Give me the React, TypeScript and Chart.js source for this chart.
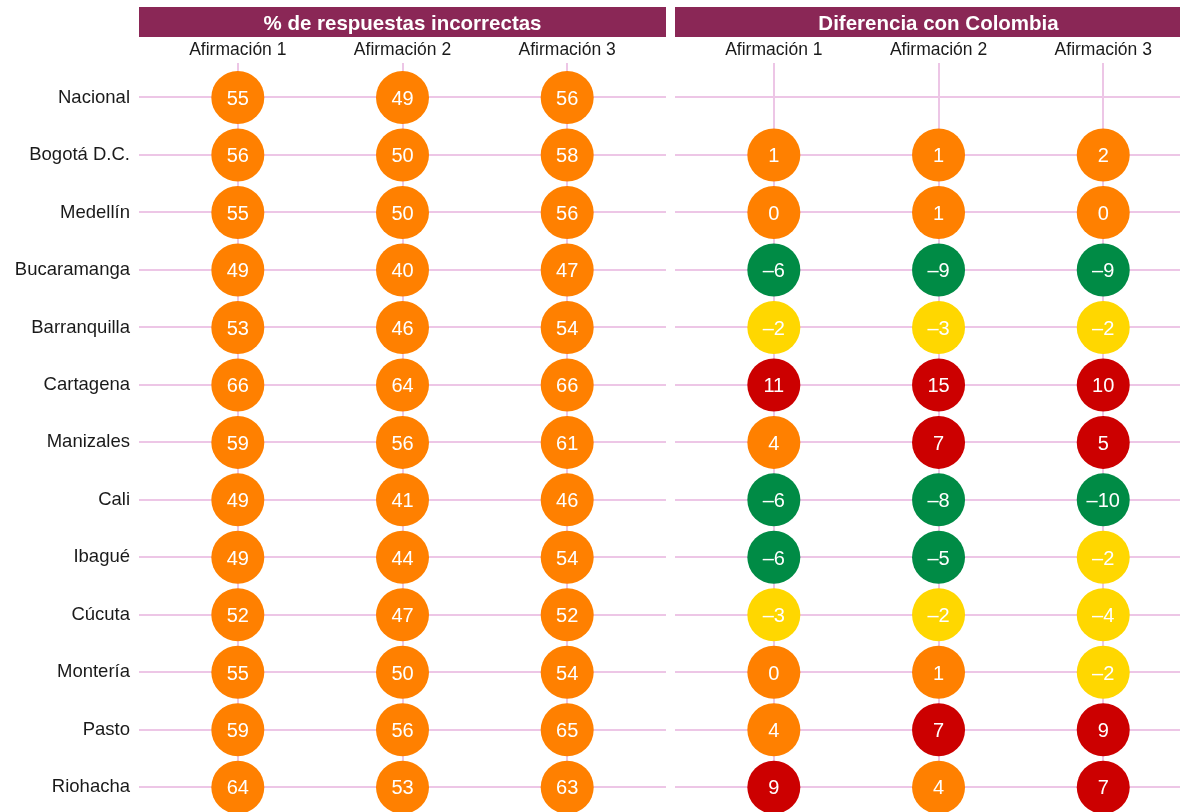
import React, { useEffect, useRef } from "react";
import { Chart, registerables } from "chart.js";

Chart.register(...registerables);

const cities = [
  "Nacional", "Bogotá D.C.", "Medellín", "Bucaramanga", "Barranquilla", "Cartagena",
  "Manizales", "Cali", "Ibagué", "Cúcuta", "Montería", "Pasto", "Riohacha",
];
const statements = ["Afirmación 1", "Afirmación 2", "Afirmación 3"];
const panelTitles = ["% de respuestas incorrectas", "Diferencia con Colombia"];

const pctA1 = [55, 56, 55, 49, 53, 66, 59, 49, 49, 52, 55, 59, 64];
const pctA2 = [49, 50, 50, 40, 46, 64, 56, 41, 44, 47, 50, 56, 53];
const pctA3 = [56, 58, 56, 47, 54, 66, 61, 46, 54, 52, 54, 65, 63];

const difA1 = [null, 1, 0, -6, -2, 11, 4, -6, -6, -3, 0, 4, 9];
const difA2 = [null, 1, 1, -9, -3, 15, 7, -8, -5, -2, 1, 7, 4];
const difA3 = [null, 2, 0, -9, -2, 10, 5, -10, -2, -4, -2, 9, 7];

const ORANGE = "#FF8000";
const RED = "#CC0000";
const GREEN = "#008B45";
const YELLOW = "#FFD700";
const MAROON = "#8A2756";
const GRID = "#EDC6E6";
const TEXT = "#1A1A1A";
const FONT = "'Liberation Sans', Arial, Helvetica, sans-serif";

const pctColor = (_v: number) => ORANGE;
const difColor = (v: number) => (v >= 5 ? RED : v >= 0 ? ORANGE : v >= -4 ? YELLOW : GREEN);
const fmt = (v: number) => (v < 0 ? "\u2013" + Math.abs(v) : String(v));

function buildConfig(
  columns: (number | null)[][],
  title: string,
  showCities: boolean,
  xMax: number,
  colorFn: (v: number) => string
): any {
  const points: any[] = [];
  const colors: string[] = [];
  columns.forEach((col, c) => {
    col.forEach((v, r) => {
      if (v === null || v === undefined) return;
      points.push({ x: c + 1, y: r + 1, v });
      colors.push(colorFn(v));
    });
  });

  const headerPlugin = {
    id: "header",
    afterDraw(chart: any) {
      const { ctx, chartArea } = chart;
      const xs = chart.scales.x;
      ctx.save();
      ctx.fillStyle = MAROON;
      ctx.fillRect(chartArea.left, 7, chartArea.right - chartArea.left, 30);
      ctx.fillStyle = "#FFFFFF";
      ctx.font = `bold 20.5px ${FONT}`;
      ctx.textAlign = "center";
      ctx.textBaseline = "alphabetic";
      ctx.fillText(title, xs.getPixelForValue(2), 30);
      ctx.restore();
    },
  };

  const valuePlugin = {
    id: "values",
    afterDatasetsDraw(chart: any) {
      const { ctx } = chart;
      ctx.save();
      ctx.fillStyle = "#FFFFFF";
      ctx.font = `20px ${FONT}`;
      ctx.textAlign = "center";
      ctx.textBaseline = "alphabetic";
      chart.data.datasets.forEach((ds: any, i: number) => {
        const meta = chart.getDatasetMeta(i);
        meta.data.forEach((el: any, j: number) => {
          const v = ds.data[j].v;
          ctx.fillText(fmt(v), el.x, el.y + 7.2);
        });
      });
      ctx.restore();
    },
  };

  return {
    type: "scatter",
    data: {
      datasets: [
        {
          data: points,
          pointRadius: 26.5,
          pointHoverRadius: 26.5,
          pointBackgroundColor: colors,
          pointBorderWidth: 0,
          borderWidth: 0,
          clip: false,
        },
      ],
    },
    options: {
      responsive: false,
      animation: false,
      events: [],
      layout: { padding: 0, autoPadding: false },
      plugins: { legend: { display: false }, tooltip: { enabled: false }, title: { display: false } },
      scales: {
        x: {
          type: "linear",
          position: "top",
          min: 0.4,
          max: xMax,
          afterBuildTicks: (s: any) => {
            s.ticks = [{ value: 1 }, { value: 2 }, { value: 3 }];
          },
          afterFit: (s: any) => {
            s.height = 63;
            s.paddingLeft = 0;
            s.paddingRight = 0;
          },
          ticks: {
            autoSkip: false,
            maxRotation: 0,
            padding: 2,
            color: TEXT,
            font: { family: FONT, size: 17.5 },
            callback: (v: any) => statements[Number(v) - 1] ?? "",
          },
          grid: { color: GRID, lineWidth: 2, drawTicks: false },
          border: { display: false },
        },
        y: {
          type: "linear",
          position: "left",
          reverse: true,
          min: 0.4,
          max: 13.43,
          afterBuildTicks: (s: any) => {
            s.ticks = cities.map((_, i) => ({ value: i + 1 }));
          },
          afterFit: (s: any) => {
            s.width = showCities ? 139 : 0;
            s.paddingTop = 0;
            s.paddingBottom = 0;
          },
          ticks: {
            display: showCities,
            autoSkip: false,
            padding: 9,
            color: TEXT,
            font: { family: FONT, size: 18.5 },
            callback: (v: any) => cities[Number(v) - 1] ?? "",
          },
          grid: { color: GRID, lineWidth: 2, drawTicks: false },
          border: { display: false },
        },
      },
    },
    plugins: [headerPlugin, valuePlugin],
  };
}

export default function App() {
  const leftRef = useRef<HTMLCanvasElement>(null);
  const rightRef = useRef<HTMLCanvasElement>(null);

  useEffect(() => {
    const left = new Chart(
      leftRef.current as HTMLCanvasElement,
      buildConfig([pctA1, pctA2, pctA3], panelTitles[0], true, 3.6, pctColor)
    );
    const right = new Chart(
      rightRef.current as HTMLCanvasElement,
      buildConfig([difA1, difA2, difA3], panelTitles[1], false, 3.466, difColor)
    );
    return () => {
      left.destroy();
      right.destroy();
    };
  }, []);

  return (
    <div style={{ position: "absolute", left: 0, top: 0, width: 1180, height: 812, background: "#FFFFFF", overflow: "hidden" }}>
      <canvas ref={leftRef} width={666} height={812} style={{ position: "absolute", left: 0, top: 0, width: 666, height: 812 }} />
      <canvas ref={rightRef} width={505} height={812} style={{ position: "absolute", left: 675, top: 0, width: 505, height: 812 }} />
    </div>
  );
}
